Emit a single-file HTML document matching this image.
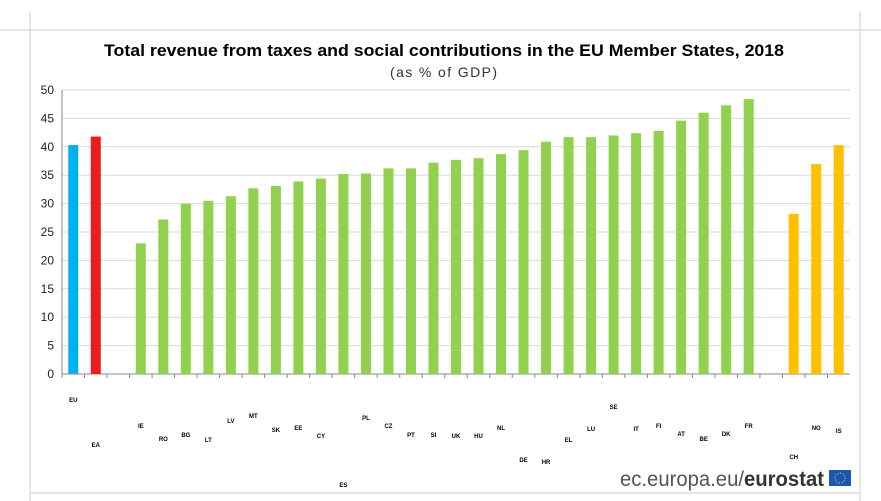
<!DOCTYPE html>
<html><head><meta charset="utf-8"><style>
body{margin:0;background:#fff;font-family:"Liberation Sans",sans-serif}
#wrap{position:relative;width:881px;height:501px;overflow:hidden}
</style></head><body>
<div id="wrap">
<svg id="svg" width="881" height="501">
 <line x1="0" y1="30" x2="881" y2="30" stroke="#ccc"/>
 <line x1="30" y1="12" x2="30" y2="501" stroke="#ccc"/>
 <line x1="860" y1="12" x2="860" y2="501" stroke="#ccc"/>
 <line x1="30" y1="493" x2="860" y2="493" stroke="#ccc"/>
 <text x="104" y="56" font-size="16.5" font-weight="bold" textLength="680" lengthAdjust="spacingAndGlyphs">Total revenue from taxes and social contributions in the EU Member States, 2018</text>
 <text x="390" y="77" font-size="14" fill="#333" textLength="107">(as % of GDP)</text>
 <text x="620" y="486" font-size="21" fill="#555" textLength="204" lengthAdjust="spacingAndGlyphs">ec.europa.eu/<tspan font-weight="bold" fill="#333">eurostat</tspan></text>
 <rect x="829" y="470" width="22" height="16" fill="#1a57b5"/>
 <circle cx="840" cy="478" r="5" fill="none" stroke="#ffd700" stroke-dasharray="1 1.6"/>
 <g id="plot"></g>
</svg>
</div>
<script>
const categories=["EU","EA","","IE","RO","BG","LT","LV","MT","SK","EE","CY","ES","PL","CZ","PT","SI","UK","HU","NL","DE","HR","EL","LU","SE","IT","FI","AT","BE","DK","FR","","CH","NO","IS"];
const values=[40.3,41.8,null,23.0,27.2,30.0,30.5,31.3,32.7,33.1,33.9,34.4,35.2,35.3,36.2,36.2,37.2,37.7,38.0,38.7,39.4,40.9,41.7,41.7,42.0,42.4,42.8,44.6,46.0,47.3,48.4,null,28.2,37.0,40.3];
const groups=["eu","ea","","m","m","m","m","m","m","m","m","m","m","m","m","m","m","m","m","m","m","m","m","m","m","m","m","m","m","m","m","","o","o","o"];
const labelRows=[399,444,0,425,438,434,439,420,415,429,427,435,484,417,425,434,434,435,435,427,459,461,439,428,406,428,425,433,438,433,425,0,456,427,430];
const ticks=[0,5,10,15,20,25,30,35,40,45,50];
const colors={eu:"#00b0f0",ea:"#ee1c1c",m:"#92d050",o:"#ffc000"};
const x0=62,x1=850,y0=374,y1=90,ymax=50;
const y=v=>y0-(v/ymax)*(y0-y1);
const bw=(x1-x0)/categories.length;
const xc=i=>x0+bw*(i+0.5);
const g=document.getElementById('plot');
const NS="http://www.w3.org/2000/svg";
function mk(t,a){const e=document.createElementNS(NS,t);for(const k in a)e.setAttribute(k,a[k]);g.appendChild(e);return e;}
ticks.forEach(t=>{
 const l=mk('line',{x1:x0,x2:x1,y1:y(t),y2:y(t),stroke:t===0?'#888':'#d9d9d9'});
 
 
 const tx=mk('text',{x:x0-8,y:y(t)+4,'text-anchor':'end','font-size':12,fill:'#222'});
 tx.textContent=t;
 
 
});
const ax=mk('line',{x1:x0,x2:x0,y1:y1,y2:y0,stroke:'#888'});


categories.forEach((c,i)=>{
 const tk=mk('line',{x1:x0+bw*i,x2:x0+bw*i,y1:y0,y2:y0+4,stroke:'#888'});
 
 
 if(values[i]==null)return;
 const r=mk('rect',{x:xc(i)-5,y:y(values[i]),width:10,height:y0-y(values[i]),fill:colors[groups[i]]});
 
 
 const lb=mk('text',{x:xc(i),y:labelRows[i]+3,'text-anchor':'middle','font-size':6,'font-weight':'bold',fill:'#000'});
 lb.textContent=c;
 
 
});
</script>
</body></html>
